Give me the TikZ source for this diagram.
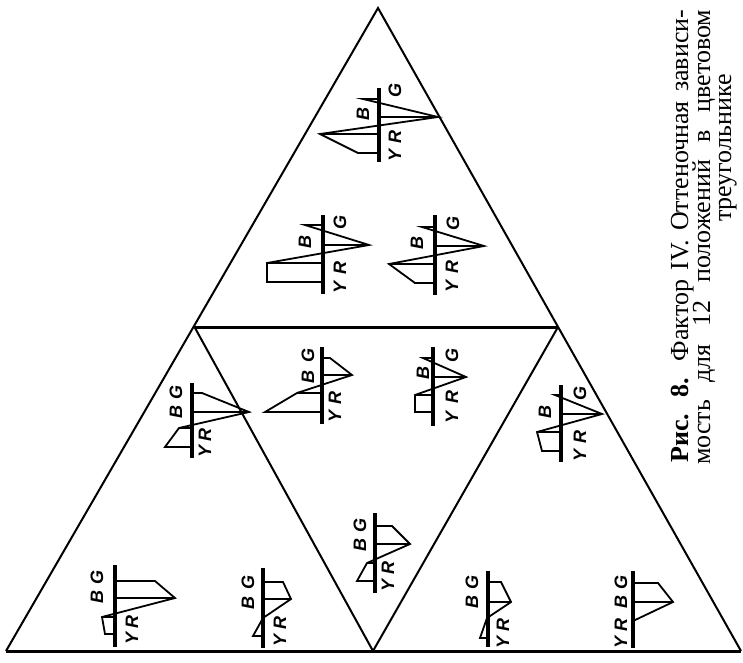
\documentclass[tikz,border=0pt]{standalone}
\usepackage{fontspec}
\setmainfont{Liberation Serif}
\newfontfamily\labfont{Liberation Sans}
\begin{document}
\begin{tikzpicture}[x=1pt,y=-1pt,
  edge/.style={line width=2pt},
  thickedge/.style={line width=3pt},
  axl/.style={line width=3.4pt},
  pl/.style={line width=1.8pt, line join=miter},
  lab/.style={rotate=90, font=\labfont\bfseries\itshape\fontsize{18}{18}\selectfont, inner sep=0pt},
  captext/.style={rotate=90, anchor=base west, inner sep=0pt, font=\fontsize{26}{26}\selectfont}]
\useasboundingbox (0,0) rectangle (743,662);
% triangles
\coordinate (A) at (378,8); \coordinate (L) at (6,651); \coordinate (R) at (741,651);
\coordinate (IL) at (194.5,327); \coordinate (IR) at (558,327); \coordinate (IB) at (373,651);
\draw[edge] (L) -- (A) -- (R);
\draw[thickedge] (L) -- (R);
\draw[thickedge] (IL) -- (IR);
\draw[edge] (IL) -- (IB) -- (IR);
% G1
\begin{scope}[shift={(379,0)}]
\draw[axl] (0,88) -- (0,162);
\draw[pl] (0,153) -- (-21,153) -- (-59,134) -- (59,117) -- (-16,99) -- (0,99);
\draw[pl] (-59,134) -- (0,134) (59,117) -- (0,117);
\node[lab] (g1B) at (-16,114) {B}; \node[lab] (g1G) at (16,90) {G};
\node[lab] (g1R) at (16,137) {R}; \node[lab] (g1Y) at (16,155) {Y};
\end{scope}
% G2
\begin{scope}[shift={(323,0)}]
\draw[axl] (0,215) -- (0,294);
\draw[pl] (0,282) -- (-56,282) -- (-56,263) -- (46,245) -- (-18,225) -- (0,225);
\draw[pl] (-56,263) -- (0,263) (46,245) -- (0,245);
\node[lab] (g2B) at (-18,242) {B}; \node[lab] (g2G) at (17,222) {G};
\node[lab] (g2R) at (17,268) {R}; \node[lab] (g2Y) at (17,287) {Y};
\end{scope}
% G3
\begin{scope}[shift={(435,0)}]
\draw[axl] (0,215) -- (0,295);
\draw[pl] (0,283) -- (-20,283) -- (-46,264) -- (49,246) -- (-13,227) -- (0,227);
\draw[pl] (-46,264) -- (0,264) (49,246) -- (0,246);
\node[lab] (g3B) at (-18,243) {B}; \node[lab] (g3G) at (18,223) {G};
\node[lab] (g3R) at (17,267) {R}; \node[lab] (g3Y) at (17,286) {Y};
\end{scope}
% G4
\begin{scope}[shift={(322,0)}]
\draw[axl] (0,347) -- (0,424);
\draw[pl] (0,412) -- (-57,412) -- (-25,393) -- (30,375) -- (8,358) -- (0,358);
\draw[pl] (-25,393) -- (0,393) (30,375) -- (0,375);
\node[lab] (g4G) at (-14,355) {G}; \node[lab] (g4B) at (-14,377) {B};
\node[lab] (g4R) at (13,398) {R}; \node[lab] (g4Y) at (13,416) {Y};
\end{scope}
% G5
\begin{scope}[shift={(433,0)}]
\draw[axl] (0,347) -- (0,426);
\draw[pl] (0,412) -- (-18,412) -- (-18,395) -- (33,377) -- (-10,358) -- (0,358);
\draw[pl] (-18,395) -- (0,395) (33,377) -- (0,377);
\node[lab] (g5B) at (-10,373) {B}; \node[lab] (g5G) at (19,355) {G};
\node[lab] (g5R) at (19,397) {R}; \node[lab] (g5Y) at (19,417) {Y};
\end{scope}
% G6
\begin{scope}[shift={(192,0)}]
\draw[axl] (0,383) -- (0,458);
\draw[pl] (0,447) -- (-27,447) -- (-13,428) -- (57,412) -- (10,393) -- (0,393);
\draw[pl] (-13,428) -- (0,428) (57,412) -- (0,412);
\node[lab] (g6G) at (-16,392) {G}; \node[lab] (g6B) at (-16,412) {B};
\node[lab] (g6R) at (13,435) {R}; \node[lab] (g6Y) at (13,451) {Y};
\end{scope}
% G7
\begin{scope}[shift={(561,0)}]
\draw[axl] (0,385) -- (0,462);
\draw[pl] (0,451) -- (-19,451) -- (-24,432) -- (41,414) -- (-6,395) -- (0,395);
\draw[pl] (-24,432) -- (0,432) (41,414) -- (0,414);
\node[lab] (g7B) at (-16,412) {B}; \node[lab] (g7G) at (19,393) {G};
\node[lab] (g7R) at (19,437) {R}; \node[lab] (g7Y) at (19,455) {Y};
\end{scope}
% G8
\begin{scope}[shift={(375,0)}]
\draw[axl] (0,513) -- (0,593);
\draw[pl] (0,581) -- (-18,581) -- (-8,563) -- (35,544) -- (17,526) -- (0,526);
\draw[pl] (-8,563) -- (0,563) (35,544) -- (0,544);
\node[lab] (g8G) at (-15,525) {G}; \node[lab] (g8B) at (-15,545) {B};
\node[lab] (g8R) at (13,568) {R}; \node[lab] (g8Y) at (13,585) {Y};
\end{scope}
% G9
\begin{scope}[shift={(115,0)}]
\draw[axl] (0,565) -- (0,647);
\draw[pl] (0,634) -- (-10,634) -- (-13,617) -- (60,598) -- (40,581) -- (0,581);
\draw[pl] (-13,617) -- (0,617) (60,598) -- (0,598);
\node[lab] (g9G) at (-18,577) {G}; \node[lab] (g9B) at (-18,597) {B};
\node[lab] (g9R) at (17,622) {R}; \node[lab] (g9Y) at (17,638) {Y};
\end{scope}
% G10
\begin{scope}[shift={(263,0)}]
\draw[axl] (0,568) -- (0,648);
\draw[pl] (0,636) -- (-10,636) -- (0,618) -- (28,599) -- (20,582) -- (0,582);
\draw[pl] (28,599) -- (0,599);
\node[lab] (g10G) at (-15,582) {G}; \node[lab] (g10B) at (-15,603) {B};
\node[lab] (g10R) at (17,623) {R}; \node[lab] (g10Y) at (17,640) {Y};
\end{scope}
% G11
\begin{scope}[shift={(488,0)}]
\draw[axl] (0,571) -- (0,647);
\draw[pl] (0,638) -- (-8,638) -- (-1,618) -- (23,602) -- (13,582) -- (0,582);
\draw[pl] (23,602) -- (0,602);
\node[lab] (g11G) at (-16,582) {G}; \node[lab] (g11B) at (-16,602) {B};
\node[lab] (g11R) at (15,625) {R}; \node[lab] (g11Y) at (15,642) {Y};
\end{scope}
% G12
\begin{scope}[shift={(633,0)}]
\draw[axl] (0,571) -- (0,648);
\draw[pl] (0,621) -- (40,602) -- (25,583) -- (0,583);
\draw[pl] (40,602) -- (0,602);
\node[lab] (g12G) at (-12,582) {G}; \node[lab] (g12B) at (-12,602) {B};
\node[lab] (g12R) at (-12,625) {R}; \node[lab] (g12Y) at (-12,642) {Y};
\end{scope}
% caption
\node[captext] (cap1) at (688,463) {\makebox[453pt][s]{\textbf{Рис. 8.} Фактор IV. Оттеночная зависи-}};
\node[captext] (cap2) at (710,465) {\makebox[455pt][s]{мость для 12 положений в цветовом}};
\node[captext] (cap3) at (731,222) {треугольнике};
\end{tikzpicture}
\end{document}
